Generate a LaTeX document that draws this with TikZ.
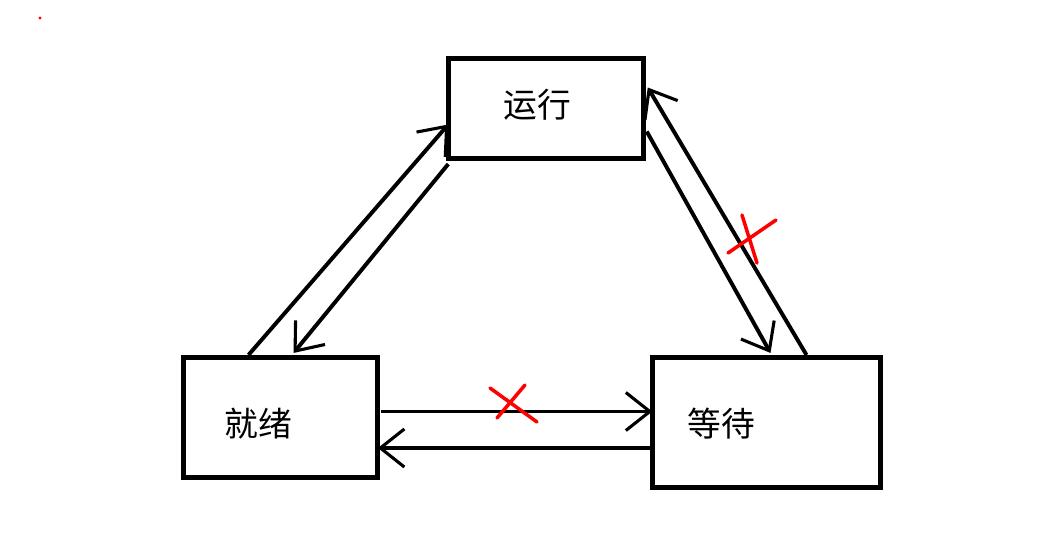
\documentclass[tikz,border=0pt]{standalone}
\usepackage{fontspec}
\newfontfamily\cjk{Noto Sans CJK SC}
\usetikzlibrary{arrows.meta,calc}

\begin{document}
\begin{tikzpicture}
	[x=0.025cm, y=-0.025cm,
	 >={Straight Barb[length=0.6cm,width=0.95cm,line width=2.2pt]},
	 statebox/.style={draw, line width=3.6pt, inner sep=0pt},
	 statetext/.style={font=\cjk\fontsize{24}{28}\selectfont},
	 move/.style={->, line width=2.8pt},
	 cross/.style={red, line width=2.5pt, line cap=round}]

	\useasboundingbox (0,0) rectangle (1046,542);

	% states
	\begin{scope}
		\node[statebox, minimum width=4.86cm, minimum height=2.5cm] (run) at (546,108.5) {};
		\node[statebox, minimum width=4.84cm, minimum height=3.0cm] (ready) at (280.5,417.5) {};
		\node[statebox, minimum width=5.68cm, minimum height=3.25cm] (wait) at (766.5,422.5) {};

		\node[statetext] (runtext) at ($(run)+(-9,-4)$) {运行};
		\node[statetext] (readytext) at ($(ready)+(-22,6)$) {就绪};
		\node[statetext] (waittext) at ($(wait)+(-45,1)$) {等待};
	\end{scope}

	% transitions
	\begin{scope}
		\draw[move] ($(ready.north)+(-32,0)$) -- ($(run.west)+(2,16)$);
		\draw[move] ($(run.south west)+(2,3)$) -- ($(ready.north)+(13,-2)$);
		\draw[move] ($(run.east)+(1,23)$) -- ($(wait.north)+(4,-2)$);
		\draw[move] ($(wait.north)+(40,0)$) -- ($(run.east)+(2,-21)$);
		\draw[move] ($(ready.east)+(1,-6)$) -- ($(wait.west)+(2,-11)$);
		\draw[move] ($(wait.west)+(5,25.5)$) -- ($(ready.east)+(-2,30.5)$);
	\end{scope}

	% forbidden transitions
	\begin{scope}[cross]
		\draw (728,253) -- (776,220)
		      (742,215) -- (757,263);
		\draw (490,388) -- (537,422)
		      (525,385) -- (497,418);
		\fill (40,18) circle (1.6);
	\end{scope}

\end{tikzpicture}
\end{document}
